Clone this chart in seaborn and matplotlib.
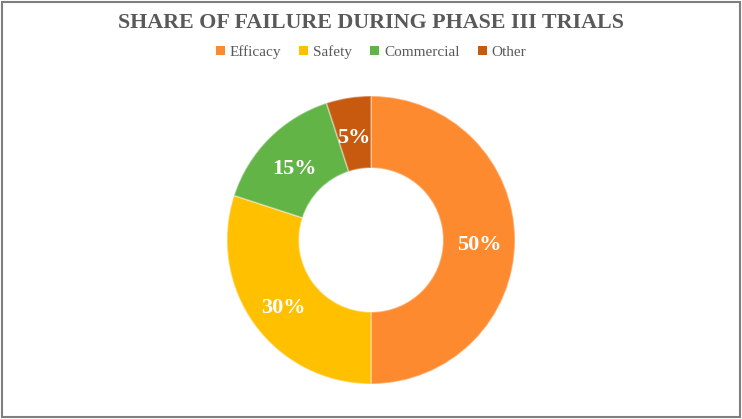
import matplotlib
matplotlib.use("Agg")
import matplotlib.pyplot as plt
from matplotlib.patches import Patch, Rectangle
from matplotlib.transforms import offset_copy
import seaborn as sns

categories = ["Efficacy", "Safety", "Commercial", "Other"]
values = [50, 30, 15, 5]
colors = ["#FE8A30", "#FFC000", "#62B447", "#C75A0F"]
title = "SHARE OF FAILURE DURING PHASE III TRIALS"

sns.set_theme(style="white")
plt.rcParams["font.family"] = ["Liberation Serif", "DejaVu Serif"]

W, H = 742, 419
fig = plt.figure(figsize=(W / 100, H / 100), dpi=100)
fig.patch.set_facecolor("white")

cx, cy, r = 371, 240, 144
ax = fig.add_axes([(cx - r) / W, (H - cy - r) / H, 2 * r / W, 2 * r / H])
wedges, texts, autotexts = ax.pie(
    values, colors=colors, startangle=90, counterclock=False,
    wedgeprops=dict(width=0.5, edgecolor=(1, 1, 1, 0.35), linewidth=1.2),
    autopct=lambda p: f"{p:.0f}%", pctdistance=0.75,
    textprops=dict(color="white", fontsize=16, fontweight="bold"),
)
for t in autotexts:
    t.set_transform(offset_copy(t.get_transform(), fig=fig, x=0, y=-5, units="dots"))
ax.set_xlim(-1, 1)
ax.set_ylim(-1, 1)
ax.set_aspect("equal")
ax.axis("off")

fig.text(0.5, 1 - 23 / H, title, ha="center", va="center",
         fontsize=15.8, fontweight="bold", color="#595959")

handles = [Patch(facecolor=c, edgecolor="none") for c in colors]
fig.legend(handles, categories, loc="center", bbox_to_anchor=(0.5, 1 - 52 / H),
           ncol=4, frameon=False, fontsize=11, handlelength=0.6, handleheight=0.6,
           handletextpad=0.3, columnspacing=1.2, labelcolor="#595959")

fig.patches.append(Rectangle((2 / W, 2 / H), (W - 4) / W, (H - 4) / H,
                             transform=fig.transFigure, fill=False,
                             edgecolor="#7F7F7F", linewidth=1.5))

fig.savefig("out.png", dpi=100)
